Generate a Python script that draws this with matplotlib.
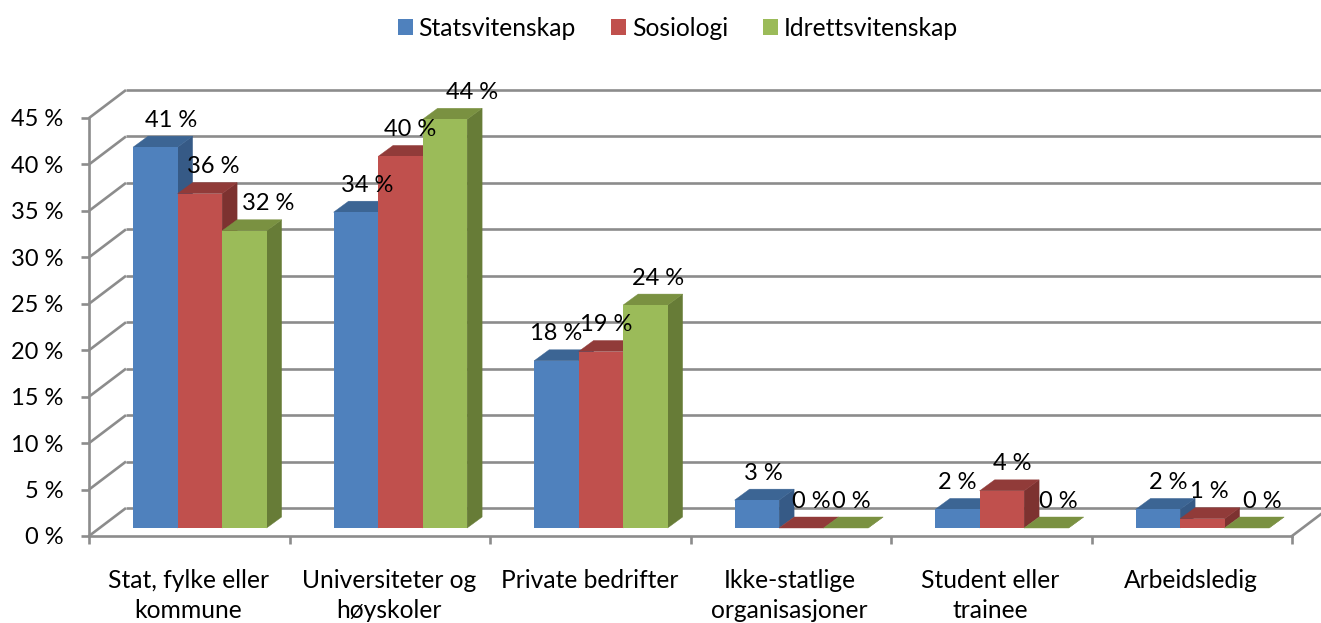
import matplotlib
matplotlib.use("Agg")
import matplotlib.pyplot as plt
from matplotlib.patches import Patch, Polygon
import numpy as np

categories = ["Stat, fylke eller\nkommune", "Universiteter og\nhøyskoler", "Private bedrifter",
              "Ikke-statlige\norganisasjoner", "Student eller\ntrainee", "Arbeidsledig"]
series_names = ["Statsvitenskap", "Sosiologi", "Idrettsvitenskap"]
statsvitenskap = [41, 34, 18, 3, 2, 2]
sosiologi = [36, 40, 19, 0, 4, 1]
idrettsvitenskap = [32, 44, 24, 0, 0, 0]
y_ticks = [0, 5, 10, 15, 20, 25, 30, 35, 40, 45]

front = ["#4F81BD", "#C0504D", "#9BBB59"]
top = ["#3C6594", "#913B39", "#7A9141"]
side = ["#365A86", "#7D3230", "#677C37"]
GRID = "#8C8C8C"
TXT = 17.7
NUM = 17.0

# manual label nudges in pixels, per series and category
label_dx = [[16, 11, 0, 7, 0, 10], [13, 10, 5, 10, 10, 7], [24, 27, 13, 5, 12, 15]]

plt.rcParams["font.family"] = ["Lato", "DejaVu Sans"]
W, H = 1321, 623
fig = plt.figure(figsize=(W / 100, H / 100), dpi=100)
L, R, T, B = 89, 1292, 118, 536
ax = fig.add_axes([L / W, (H - B) / H, (R - L) / W, (B - T) / H])
ax.set_xlim(0, 6)
ax.set_ylim(0, 45)
ax.patch.set_alpha(0)

ux = 6 / (R - L)      # data units per pixel
uy = 45 / (B - T)
wall_dx, wall_dy = 37 * ux, 28 * uy
bar_dx, bar_dy = 15 * ux, 11 * uy
base_dx, base_dy = 10.6 * ux, 8 * uy
bar_w = 44.5 * ux
lw = 1.9

for v in y_ticks:
    ax.plot([0, wall_dx], [v, v + wall_dy], color=GRID, lw=lw, clip_on=False, zorder=1, solid_capstyle="butt")
    ax.plot([wall_dx, 6 + wall_dx], [v + wall_dy, v + wall_dy], color=GRID, lw=lw, clip_on=False, zorder=1, solid_capstyle="butt")
ax.plot([6, 6 + wall_dx], [0, wall_dy], color=GRID, lw=lw, clip_on=False, zorder=1)

for side_name in ["top", "right"]:
    ax.spines[side_name].set_visible(False)
for side_name in ["left", "bottom"]:
    ax.spines[side_name].set_color(GRID)
    ax.spines[side_name].set_linewidth(lw)
    ax.spines[side_name].set_zorder(1)

ax.set_yticks(y_ticks)
ax.set_yticklabels([f"{v} %" for v in y_ticks], fontsize=NUM)
ax.set_xticks(np.arange(7))
ax.set_xticklabels([""] * 7)
ax.tick_params(axis="both", length=5.8, width=lw, color=GRID, labelcolor="black")
ax.tick_params(axis="y", pad=12.5)

cat_y = -32.5 / (B - T)
for i, c in enumerate(categories):
    ax.text(i + 0.5 - 1 * ux, cat_y, c, transform=ax.get_xaxis_transform(), ha="center", va="top",
            fontsize=TXT, linespacing=1.4, clip_on=False)

all_series = [statsvitenskap, sosiologi, idrettsvitenskap]
for cat in range(len(categories)):
    for s, values in enumerate(all_series):
        val = values[cat]
        x0 = cat + 0.5 + (s - 1.5) * bar_w + base_dx
        x1 = x0 + bar_w
        y0 = base_dy
        y1 = base_dy + val
        z = 3 + cat * 0.1 + s * 0.01
        ax.add_patch(Polygon([(x1, y0), (x1 + bar_dx, y0 + bar_dy), (x1 + bar_dx, y1 + bar_dy), (x1, y1)],
                             closed=True, fc=side[s], ec=side[s], lw=0.3, clip_on=False, zorder=z))
        ax.add_patch(Polygon([(x0, y1), (x1, y1), (x1 + bar_dx, y1 + bar_dy), (x0 + bar_dx, y1 + bar_dy)],
                             closed=True, fc=top[s], ec=top[s], lw=0.3, clip_on=False, zorder=z))
        ax.bar(x0, val, width=bar_w, bottom=y0, align="edge", color=front[s], zorder=z + 0.001, clip_on=False)
for cat in range(len(categories)):
    for s, values in enumerate(all_series):
        val = values[cat]
        cx = cat + 0.5 + (s - 1) * bar_w + base_dx
        ax.text(cx + label_dx[s][cat] * ux, base_dy + val + 27 * uy, f"{val} %", ha="center", va="center",
                fontsize=NUM, zorder=10, clip_on=False)

handles = [Patch(fc=c, ec="none") for c in front]
fig.legend(handles, series_names, loc="center", bbox_to_anchor=(678 / W, 1 - 28 / H), ncols=3,
           frameon=False, fontsize=TXT, handlelength=0.61, handleheight=0.62, handletextpad=0.22,
           columnspacing=1.45, borderpad=0, borderaxespad=0)

fig.savefig("out.png", dpi=100)
